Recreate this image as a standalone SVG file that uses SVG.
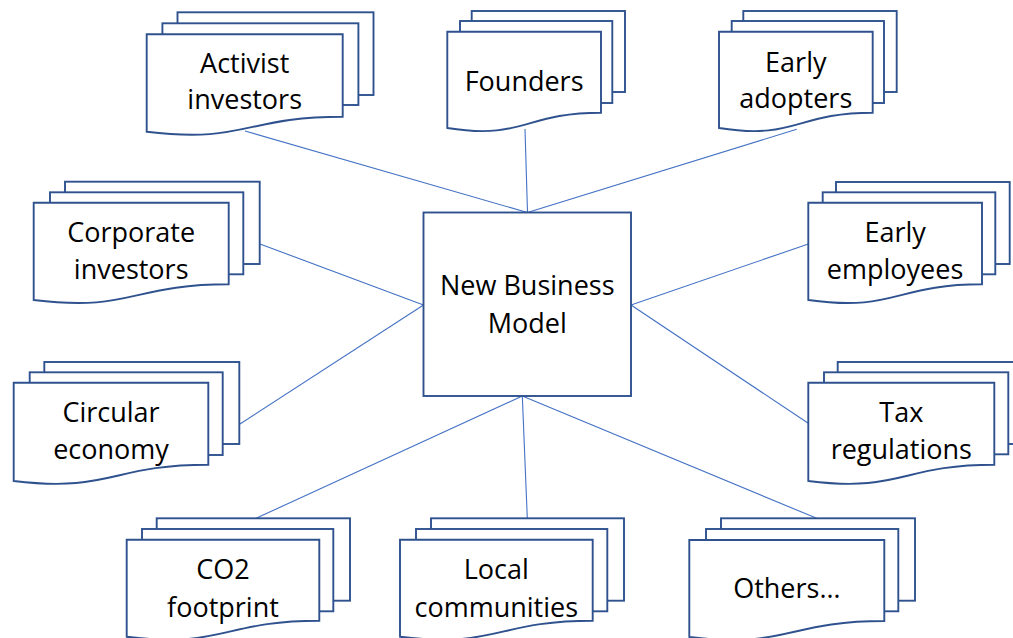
<svg xmlns="http://www.w3.org/2000/svg" width="1013" height="638" viewBox="0 0 1013 638">
  <style>
    .page { fill: #ffffff; stroke: #2F528F; stroke-width: 1.9; stroke-linejoin: miter; }
    .hub { fill: #ffffff; stroke: #2F528F; stroke-width: 1.9; }
    .link { fill: none; stroke: #4472C4; stroke-width: 1.1; }
    .label { font-family: "Open Sans", "Liberation Sans", sans-serif; font-size: 27px; fill: #000000; text-anchor: middle; }
  </style>
  <rect width="1013" height="638" fill="#ffffff"/>

  <!-- connectors from the central model to each stakeholder stack -->
  <g id="connectors">
    <line class="link" x1="245" y1="131" x2="527.5" y2="212.5"/>
    <line class="link" x1="525" y1="129" x2="527.5" y2="212.5"/>
    <line class="link" x1="796.7" y1="129.3" x2="527.5" y2="212.5"/>
    <line class="link" x1="260" y1="244" x2="423.5" y2="305"/>
    <line class="link" x1="240" y1="424" x2="423.5" y2="305"/>
    <line class="link" x1="808.3" y1="244" x2="631" y2="305"/>
    <line class="link" x1="808.3" y1="423.3" x2="631" y2="305"/>
    <line class="link" x1="256" y1="518.3" x2="522.3" y2="396"/>
    <line class="link" x1="527.3" y1="518.3" x2="522.3" y2="396"/>
    <line class="link" x1="816.7" y1="518.3" x2="522.3" y2="396"/>
  </g>

  <!-- central node -->
  <g id="new-business-model">
    <rect class="hub" x="423.5" y="212.5" width="207.5" height="183.5"/>
    <text class="label" x="527.3" y="295">New Business</text>
    <text class="label" x="527.3" y="333">Model</text>
  </g>

  <!-- multi-document stacks: back page, middle page, front page with wavy edge -->
  <g id="activist-investors" transform="translate(146.7,34.3)">
    <rect class="page" x="30.8" y="-22" width="196" height="82.7"/>
    <rect class="page" x="15.7" y="-11" width="196" height="81.7"/>
    <path class="page" d="M0,0 H196 V82.4 C98,82.4 98,109.4 0,97.4 Z"/>
    <text class="label" x="98" y="39">Activist</text>
    <text class="label" x="98" y="75">investors</text>
  </g>

  <g id="founders" transform="translate(447.3,31.7)">
    <rect class="page" x="24.4" y="-20.7" width="153.3" height="81"/>
    <rect class="page" x="12.7" y="-10.7" width="152.3" height="82"/>
    <path class="page" d="M0,0 H153.7 V81 C76.8,81 76.8,108.5 0,96.3 Z"/>
    <text class="label" x="76.8" y="59">Founders</text>
  </g>

  <g id="early-adopters" transform="translate(719,31.7)">
    <rect class="page" x="24.3" y="-20.7" width="153.4" height="81"/>
    <rect class="page" x="12.7" y="-10.7" width="152.3" height="82"/>
    <path class="page" d="M0,0 H153.7 V81 C76.8,81 76.8,108.5 0,96.3 Z"/>
    <text class="label" x="76.8" y="40">Early</text>
    <text class="label" x="76.8" y="76.6">adopters</text>
  </g>

  <g id="corporate-investors" transform="translate(33.7,202.7)">
    <rect class="page" x="31.3" y="-21" width="194.7" height="82.3"/>
    <rect class="page" x="16.3" y="-10.4" width="193.3" height="82"/>
    <path class="page" d="M0,0 H195 V81.6 C97.5,81.6 97.5,109.5 0,97.3 Z"/>
    <text class="label" x="97.5" y="39">Corporate</text>
    <text class="label" x="97.5" y="76.6">investors</text>
  </g>

  <g id="circular-economy" transform="translate(13.7,382.7)">
    <rect class="page" x="30.6" y="-20.7" width="195" height="82"/>
    <rect class="page" x="16" y="-10.4" width="193" height="82.7"/>
    <path class="page" d="M0,0 H194.6 V82 C97.3,82 97.3,110 0,98.3 Z"/>
    <text class="label" x="97.3" y="39.6">Circular</text>
    <text class="label" x="97.3" y="76.6">economy</text>
  </g>

  <g id="early-employees" transform="translate(808.3,202.7)">
    <rect class="page" x="27.7" y="-20.7" width="173.7" height="82"/>
    <rect class="page" x="14.4" y="-10.4" width="172.6" height="82"/>
    <path class="page" d="M0,0 H173.7 V81.6 C86.8,81.6 86.8,109.5 0,97.3 Z"/>
    <text class="label" x="86.8" y="39">Early</text>
    <text class="label" x="86.8" y="76.6">employees</text>
  </g>

  <g id="tax-regulations" transform="translate(808.3,382.7)">
    <rect class="page" x="29.4" y="-20.7" width="186" height="82"/>
    <rect class="page" x="15.7" y="-10.4" width="184.3" height="82"/>
    <path class="page" d="M0,0 H186 V82 C93,82 93,110 0,98.3 Z"/>
    <text class="label" x="93" y="39">Tax</text>
    <text class="label" x="93" y="76.6">regulations</text>
  </g>

  <g id="co2-footprint" transform="translate(126.7,539.7)">
    <rect class="page" x="30" y="-21.4" width="193.3" height="82.4"/>
    <rect class="page" x="15.3" y="-10.7" width="191.3" height="82.3"/>
    <path class="page" d="M0,0 H192.6 V81 C96.3,81 96.3,109 0,97 Z"/>
    <text class="label" x="96.3" y="39.3">CO2</text>
    <text class="label" x="96.3" y="77">footprint</text>
  </g>

  <g id="local-communities" transform="translate(400,539.7)">
    <rect class="page" x="31" y="-21.4" width="193" height="82.4"/>
    <rect class="page" x="16" y="-10.7" width="191.3" height="82.3"/>
    <path class="page" d="M0,0 H192.7 V81 C96.3,81 96.3,109 0,97 Z"/>
    <text class="label" x="96.3" y="39.3">Local</text>
    <text class="label" x="96.3" y="77">communities</text>
  </g>

  <g id="others" transform="translate(689.3,540)">
    <rect class="page" x="31.7" y="-21.7" width="194" height="82.4"/>
    <rect class="page" x="16.7" y="-11" width="192.3" height="82.3"/>
    <path class="page" d="M0,0 H195 V81 C97.5,81 97.5,109 0,97 Z"/>
    <text class="label" x="97.5" y="58.3">Others…</text>
  </g>
</svg>
